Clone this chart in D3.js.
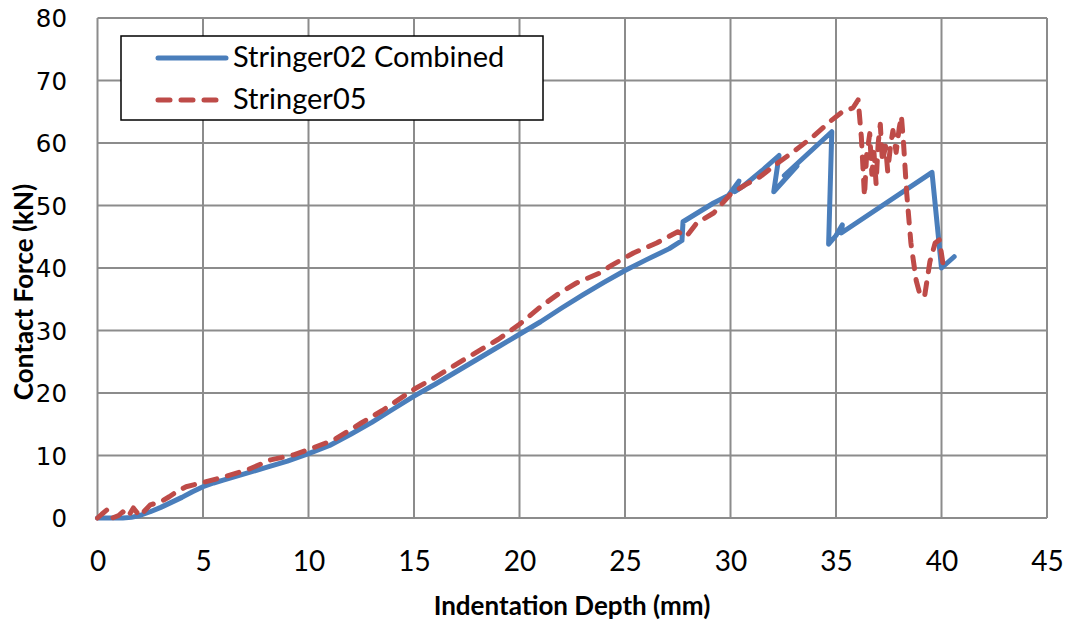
<!DOCTYPE html>
<html><head><meta charset="utf-8">
<script src="https://cdn.jsdelivr.net/npm/d3@7"></script>
<style>body{margin:0;background:#fff}svg{display:block}</style>
</head><body>
<svg id="c" width="1069" height="621"></svg>
<script>
const xTicks = [0,5,10,15,20,25,30,35,40,45];
const yTicks = [0,10,20,30,40,50,60,70,80];
const seriesNames = ["Stringer02 Combined","Stringer05"];
const xTitle = "Indentation Depth (mm)";
const yTitle = "Contact Force (kN)";

const stringer02 = [
 [0,0],[0.6,0],[1.2,0],[1.6,0.1],[2.0,0.4],[2.5,1.0],[3.0,1.7],[3.5,2.5],[4.0,3.3],[4.5,4.2],[5,5.0],
 [5.5,5.6],[6,6.1],[7,7.1],[8,8.1],[9,9.1],[10,10.3],[11,11.6],[12,13.4],[13,15.3],[14,17.4],[15,19.5],
 [16,21.4],[17,23.4],[18,25.4],[19,27.4],[20,29.4],[21,31.4],[22,33.6],[23,35.7],[24,37.7],[25,39.6],
 [26,41.3],[27.1,43.1],[27.7,44.4],
 [27.75,47.4],[29.2,50.4],[29.9,51.6],[30.4,53.9],[30.2,52.2],[30.6,53.1],[31.5,55.6],[32.3,58.0],
 [32.05,52.2],[33.15,56.3],[32.55,54.8],[34.8,61.8],[34.65,43.8],[35.0,45.2],[35.3,46.9],[35.25,45.6],
 [39.55,55.3],[40.0,40.0],[40.6,41.8]
];
const stringer05 = [
 [0,0],[0.2,0.6],[0.45,1.3],[0.7,0],[1.0,0.4],[1.2,1.0],[1.45,0.2],[1.7,1.6],[2.0,0.3],[2.5,2.1],[3.0,2.6],
 [3.4,3.4],[3.75,4.2],[4.2,5.0],[4.9,5.6],[5.8,6.4],[7.1,7.7],[8.2,9.3],[9.3,10.1],[10.2,11.2],[11.2,12.5],
 [12.5,15.2],[13.5,17.2],[15,20.6],[16,22.5],[17.5,25.6],[19,28.6],[20,31.0],[21,33.8],[21.9,36.0],
 [22.7,37.6],[23.8,39.2],[24.4,40.5],[25.4,42.4],[26.5,44.0],[27.5,45.8],[27.9,45.0],[28.4,47.2],
 [29.2,48.8],[30.0,51.8],[30.7,53.3],
 [31.4,54.6],[32.2,56.7],[32.9,58.4],[33.9,61.0],[34.7,63.4],[35.3,65.0],[35.8,65.6],[36.05,66.9],
 [36.2,61],[36.35,51.5],[36.45,58],[36.6,61.5],[36.7,55],[36.8,58.5],[36.9,53.5],[37.0,60],[37.1,63],
 [37.2,57],[37.35,59.5],[37.45,55.5],[37.6,60],[37.7,62],[37.85,58.5],[38.0,62.5],[38.1,64.3],[38.2,60],
 [38.35,52],[38.55,44],[38.8,38],[39.0,35.5],[39.2,35.5],[39.45,41],[39.7,44],[39.9,44.5],[40.1,40]
];

const svg = d3.select("#c");
const L=97.5, R=1047, T=18, B=518;
const x = d3.scaleLinear().domain([0,45]).range([L,R]);
const y = d3.scaleLinear().domain([0,80]).range([B,T]);
const grid = "#8c8c8c";

svg.append("g").selectAll("line").data(xTicks).join("line")
 .attr("x1",d=>x(d)).attr("x2",d=>x(d)).attr("y1",T).attr("y2",B)
 .attr("stroke",grid).attr("stroke-width",2);
svg.append("g").selectAll("line").data(yTicks).join("line")
 .attr("x1",L).attr("x2",R).attr("y1",d=>y(d)).attr("y2",d=>y(d))
 .attr("stroke",grid).attr("stroke-width",2);

const xa = svg.append("g").attr("transform",`translate(0,${B})`)
 .call(d3.axisBottom(x).tickValues(xTicks).tickSize(0).tickPadding(0));
xa.select(".domain").remove();
xa.selectAll("text").attr("y",53).attr("dy",0).attr("font-family","Lato").attr("font-size",28).attr("fill","#000");

const ya = svg.append("g").attr("transform",`translate(67,0)`)
 .call(d3.axisLeft(y).tickValues(yTicks).tickSize(0).tickPadding(0));
ya.select(".domain").remove();
ya.selectAll("text").attr("x",0).attr("dy","0.36em").attr("font-family","DejaVu Sans").attr("font-size",24.5).attr("fill","#000");

svg.append("text").attr("x",572).attr("y",615).attr("text-anchor","middle")
 .attr("font-family","Lato").attr("font-weight","bold").attr("font-size",26).text(xTitle);
svg.append("text").attr("transform","translate(33,292) rotate(-90)").attr("text-anchor","middle")
 .attr("font-family","Lato").attr("font-weight","bold").attr("font-size",26).text(yTitle);

const line = d3.line().x(d=>x(d[0])).y(d=>y(d[1]));
const blue="#4A7EBB", red="#BE4B48";
svg.append("path").datum(stringer02).attr("d",line).attr("fill","none")
 .attr("stroke",blue).attr("stroke-width",5).attr("stroke-linejoin","round").attr("stroke-linecap","round");
svg.append("path").datum(stringer05).attr("d",line).attr("fill","none")
 .attr("stroke",red).attr("stroke-width",5).attr("stroke-linejoin","round").attr("stroke-linecap","round")
 .attr("stroke-dasharray","12,11");

const lg = svg.append("g");
lg.append("rect").attr("x",121).attr("y",36).attr("width",422).attr("height",84)
 .attr("fill","#fff").attr("stroke","#000").attr("stroke-width",1.5);
const items = [{name:seriesNames[0],c:blue,dash:null,y:58},{name:seriesNames[1],c:red,dash:"12,11",y:100}];
items.forEach(it=>{
  lg.append("line").attr("x1",158).attr("x2",226).attr("y1",it.y).attr("y2",it.y)
   .attr("stroke",it.c).attr("stroke-width",5).attr("stroke-linecap","round")
   .attr("stroke-dasharray",it.dash);
  lg.append("text").attr("x",233).attr("y",it.y+9).attr("font-family","Lato").attr("font-size",29).text(it.name);
});
</script>
</body></html>
